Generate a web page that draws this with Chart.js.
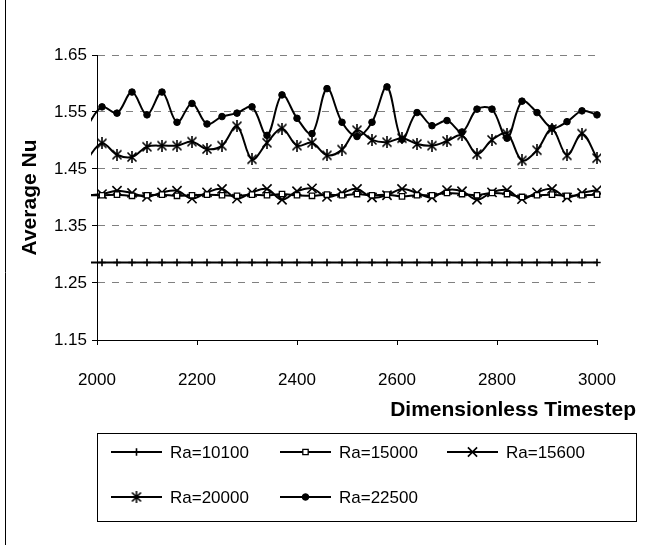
<!DOCTYPE html>
<html lang="en">
<head>
  <meta charset="UTF-8" />
  <title>Average Nu</title>
  <script src="https://cdn.jsdelivr.net/npm/chart.js"></script>
  <style>
    html, body { margin: 0; padding: 0; background: #fff; }
  </style>
</head>
<body>
  <canvas id="nuChart" width="668" height="545"></canvas>

  <script>
    // timesteps (first one lies left of the axis and is clipped, like in Excel)
    const timesteps = [1980, 2010, 2040, 2070, 2100, 2130, 2160, 2190, 2220, 2250, 2280, 2310,
      2340, 2370, 2400, 2430, 2460, 2490, 2520, 2550, 2580, 2610, 2640, 2670, 2700, 2730,
      2760, 2790, 2820, 2850, 2880, 2910, 2940, 2970, 3000];

    const ra10100 = [1.286, 1.286, 1.286, 1.286, 1.286, 1.286, 1.286, 1.286, 1.286, 1.286, 1.286, 1.286,
      1.286, 1.286, 1.286, 1.286, 1.286, 1.286, 1.286, 1.286, 1.286, 1.286, 1.286, 1.286, 1.286, 1.286,
      1.286, 1.286, 1.286, 1.286, 1.286, 1.286, 1.286, 1.286, 1.286];

    const ra15000 = [1.404, 1.404, 1.405, 1.403, 1.404, 1.405, 1.403, 1.404, 1.405, 1.404, 1.403, 1.405,
      1.404, 1.406, 1.404, 1.403, 1.405, 1.404, 1.406, 1.404, 1.405, 1.402, 1.404, 1.404, 1.408, 1.406,
      1.404, 1.408, 1.406, 1.401, 1.404, 1.405, 1.403, 1.404, 1.405];

    const ra15600 = [1.404, 1.406, 1.412, 1.408, 1.401, 1.409, 1.412, 1.398, 1.409, 1.415, 1.398, 1.409,
      1.415, 1.396, 1.411, 1.416, 1.401, 1.408, 1.415, 1.400, 1.404, 1.415, 1.408, 1.400, 1.413, 1.411,
      1.396, 1.409, 1.413, 1.397, 1.409, 1.415, 1.400, 1.408, 1.413];

    const ra20000 = [1.467, 1.495, 1.475, 1.471, 1.489, 1.491, 1.491, 1.498, 1.485, 1.491, 1.525, 1.467,
      1.496, 1.521, 1.491, 1.496, 1.474, 1.484, 1.518, 1.501, 1.497, 1.504, 1.494, 1.491, 1.499, 1.509,
      1.476, 1.501, 1.512, 1.465, 1.483, 1.520, 1.474, 1.512, 1.469];

    const ra22500 = [1.525, 1.559, 1.548, 1.585, 1.545, 1.585, 1.532, 1.565, 1.529, 1.542, 1.548, 1.559,
      1.509, 1.580, 1.539, 1.512, 1.591, 1.532, 1.507, 1.532, 1.594, 1.502, 1.549, 1.526, 1.535, 1.515,
      1.555, 1.555, 1.504, 1.569, 1.549, 1.522, 1.533, 1.552, 1.545];

    const seriesNames = ["Ra=10100", "Ra=15000", "Ra=15600", "Ra=20000", "Ra=22500"];
    const yTicks = [1.15, 1.25, 1.35, 1.45, 1.55, 1.65];
    const xTicks = [2000, 2200, 2400, 2600, 2800, 3000];
    const xTitle = "Dimensionless Timestep";
    const yTitle = "Average Nu";

    const FONT = "'Liberation Sans', Arial, sans-serif";

    // Excel style asterisk marker (x plus a vertical bar)
    function makeAsterisk() {
      const c = document.createElement("canvas");
      c.width = 12; c.height = 12;
      const g = c.getContext("2d");
      g.strokeStyle = "#000";
      g.lineWidth = 1.6;
      g.beginPath();
      g.moveTo(1.5, 1.5); g.lineTo(10.5, 10.5);
      g.moveTo(10.5, 1.5); g.lineTo(1.5, 10.5);
      g.moveTo(6, 0); g.lineTo(6, 12);
      g.stroke();
      return c;
    }

    const markers = [
      { pointStyle: "cross", radius: 3.7, bg: "#000", bw: 1.6 },
      { pointStyle: "rect", radius: 3.8, bg: "#fff", bw: 1.3 },
      { pointStyle: "crossRot", radius: 6.5, bg: "#000", bw: 1.6 },
      { pointStyle: makeAsterisk(), radius: 6, bg: "#000", bw: 1 },
      { pointStyle: "circle", radius: 3.3, bg: "#000", bw: 1 }
    ];

    const values = [ra10100, ra15000, ra15600, ra20000, ra22500];

    const datasets = values.map((vals, i) => ({
      label: seriesNames[i],
      data: vals.map((v, j) => ({ x: timesteps[j], y: v })),
      borderColor: "#000",
      borderWidth: 2,
      tension: 0.35,
      pointStyle: markers[i].pointStyle,
      pointRadius: markers[i].radius,
      pointBackgroundColor: markers[i].bg,
      pointBorderColor: "#000",
      pointBorderWidth: markers[i].bw,
      clip: { left: 6, top: 2, right: 4, bottom: 2 }
    }));

    // x title, legend box and the left border of the chart area
    const excelExtras = {
      id: "excelExtras",
      afterDraw(chart) {
        const ctx = chart.ctx;
        ctx.save();
        ctx.strokeStyle = "#000";
        ctx.lineWidth = 1;
        ctx.beginPath();
        ctx.moveTo(5.5, 0); ctx.lineTo(5.5, 545);
        ctx.stroke();

        ctx.fillStyle = "#000";
        ctx.font = "bold 21px " + FONT;
        ctx.textAlign = "right";
        ctx.textBaseline = "middle";
        ctx.fillText(xTitle, 636, 410);

        ctx.strokeRect(97.5, 433.5, 539, 88);

        const cols = [111, 280, 447];
        const rows = [452, 497];
        ctx.font = "17px " + FONT;
        ctx.textAlign = "left";
        seriesNames.forEach((name, i) => {
          const x = cols[i % 3];
          const y = rows[Math.floor(i / 3)];
          ctx.lineWidth = 2;
          ctx.strokeStyle = "#000";
          ctx.beginPath();
          ctx.moveTo(x, y); ctx.lineTo(x + 51, y);
          ctx.stroke();
          ctx.fillStyle = markers[i].bg;
          ctx.lineWidth = markers[i].bw;
          Chart.helpers.drawPoint(ctx, {
            pointStyle: markers[i].pointStyle,
            radius: markers[i].radius,
            rotation: 0,
            borderWidth: markers[i].bw
          }, x + 25.5, y);
          ctx.fillStyle = "#000";
          ctx.fillText(name, x + 59, y + 1);
        });
        ctx.restore();
      }
    };

    new Chart(document.getElementById("nuChart").getContext("2d"), {
      type: "line",
      data: { datasets },
      plugins: [excelExtras],
      options: {
        responsive: false,
        animation: false,
        layout: { padding: { top: 55, right: 71, bottom: 145, left: 0 } },
        plugins: { legend: { display: false }, tooltip: { enabled: false } },
        scales: {
          x: {
            type: "linear",
            min: 2000,
            max: 3000,
            afterBuildTicks: s => { s.ticks = xTicks.map(v => ({ value: v })); },
            afterFit: s => { s.height = 60; },
            ticks: {
              color: "#000",
              padding: 25,
              maxRotation: 0,
              callback: v => String(v),
              font: { family: FONT, size: 17 }
            },
            grid: { drawOnChartArea: false, tickLength: 5, tickColor: "#000" },
            border: { color: "#000", width: 1 }
          },
          y: {
            min: 1.15,
            max: 1.65,
            afterBuildTicks: s => { s.ticks = yTicks.map(v => ({ value: v })); },
            afterFit: s => { s.width = 97; },
            ticks: {
              color: "#000",
              padding: 5,
              callback: v => Number(v).toFixed(2),
              font: { family: FONT, size: 17 }
            },
            grid: {
              color: c => (c.tick && c.tick.value === 1.15 ? "rgba(0,0,0,0)" : "#808080"),
              tickLength: 5,
              tickColor: "#000"
            },
            border: { color: "#000", width: 1, dash: [7, 7] },
            title: {
              display: true,
              text: yTitle,
              color: "#000",
              padding: { top: 18, bottom: 0 },
              font: { family: FONT, size: 21, weight: "bold" }
            }
          }
        }
      }
    });
  </script>
</body>
</html>
